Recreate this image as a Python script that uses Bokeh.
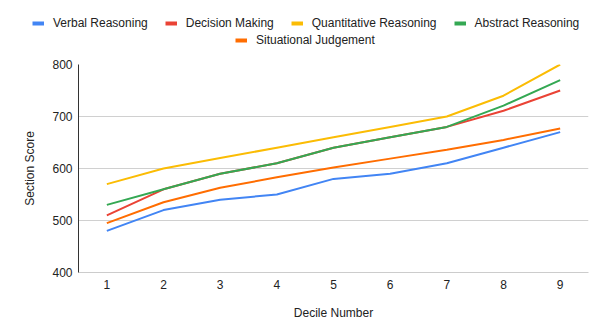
from bokeh.plotting import figure
from bokeh.layouts import column, row
from bokeh.models import Range1d, FixedTicker, Legend, LegendItem
from bokeh.embed import file_html
from bokeh.resources import INLINE

deciles = [1, 2, 3, 4, 5, 6, 7, 8, 9]
verbal = [480, 520, 540, 550, 580, 590, 610, 640, 670]
decision = [510, 560, 590, 610, 640, 660, 680, 711, 750]
quantitative = [570, 600, 620, 640, 660, 680, 700, 740, 800]
abstract = [530, 560, 590, 610, 640, 660, 680, 721, 770]
situational = [495, 535, 563, 583, 602, 619, 636, 655, 677]
y_ticks = [400, 500, 600, 700, 800]

series = [
    ("Verbal Reasoning", verbal, "#4285F4"),
    ("Decision Making", decision, "#EA4335"),
    ("Quantitative Reasoning", quantitative, "#FBBC04"),
    ("Abstract Reasoning", abstract, "#34A853"),
    ("Situational Judgement", situational, "#FF6D01"),
]

FONT = "Liberation Sans"

# ---- legend strip (top); its ranges keep the series lines out of view ----
top = figure(width=600, height=50, output_backend="svg", toolbar_location=None,
             x_axis_location=None, y_axis_location=None,
             x_range=Range1d(100, 101), y_range=Range1d(0, 1),
             min_border=0, min_border_left=0, min_border_right=0,
             min_border_top=0, min_border_bottom=0)
top.outline_line_color = None
top.grid.visible = False

# ---- main chart ----
p = figure(width=600, height=279, output_backend="svg", toolbar_location=None,
           x_range=Range1d(0.5, 9.5), y_range=Range1d(400, 800),
           min_border_left=78, min_border_right=12, min_border_top=14,
           min_border_bottom=57)
p.outline_line_color = None

items = []
for name, vals, col in series:
    p.line(deciles, vals, line_color=col, line_width=2)
    swatch = top.line(deciles, vals, line_color=col, line_width=4)
    items.append(LegendItem(label=name, renderers=[swatch]))

p.xaxis.ticker = FixedTicker(ticks=deciles)
p.yaxis.ticker = FixedTicker(ticks=y_ticks)
p.xgrid.grid_line_color = None
p.ygrid.grid_line_color = "#d0d0d0"
p.ygrid.grid_line_width = 1

for ax in (p.xaxis[0], p.yaxis[0]):
    ax.major_tick_line_color = None
    ax.minor_tick_line_color = None
    ax.major_tick_out = 0
    ax.major_tick_in = 0
    ax.major_label_text_font = FONT
    ax.major_label_text_font_size = "12px"
    ax.major_label_text_color = "#222222"
    ax.axis_label_text_font = FONT
    ax.axis_label_text_font_size = "12px"
    ax.axis_label_text_font_style = "normal"
    ax.axis_label_text_color = "#222222"

p.xaxis.axis_label = "Decile Number"
p.yaxis.axis_label = "Section Score"
p.xaxis.axis_line_color = "#cccccc"
p.yaxis.axis_line_color = "#333333"
p.yaxis.major_label_standoff = 6
p.yaxis.axis_label_standoff = 12
p.xaxis.major_label_standoff = 7
p.xaxis.axis_label_standoff = 14


def make_legend(its, loc):
    return Legend(items=its, location=loc, orientation="horizontal",
                  border_line_color=None, background_fill_alpha=0,
                  padding=0, margin=0, spacing=17, label_standoff=9,
                  glyph_width=12, glyph_height=14, label_height=14,
                  label_text_font=FONT, label_text_font_size="12px",
                  label_text_color="#222222")


top.add_layout(make_legend(items[:4], (32, 20)), "center")
top.add_layout(make_legend(items[4:], (235, 3)), "center")

layout = column(row(top), row(p), spacing=0)
open("out.html", "w").write(file_html(layout, INLINE))
